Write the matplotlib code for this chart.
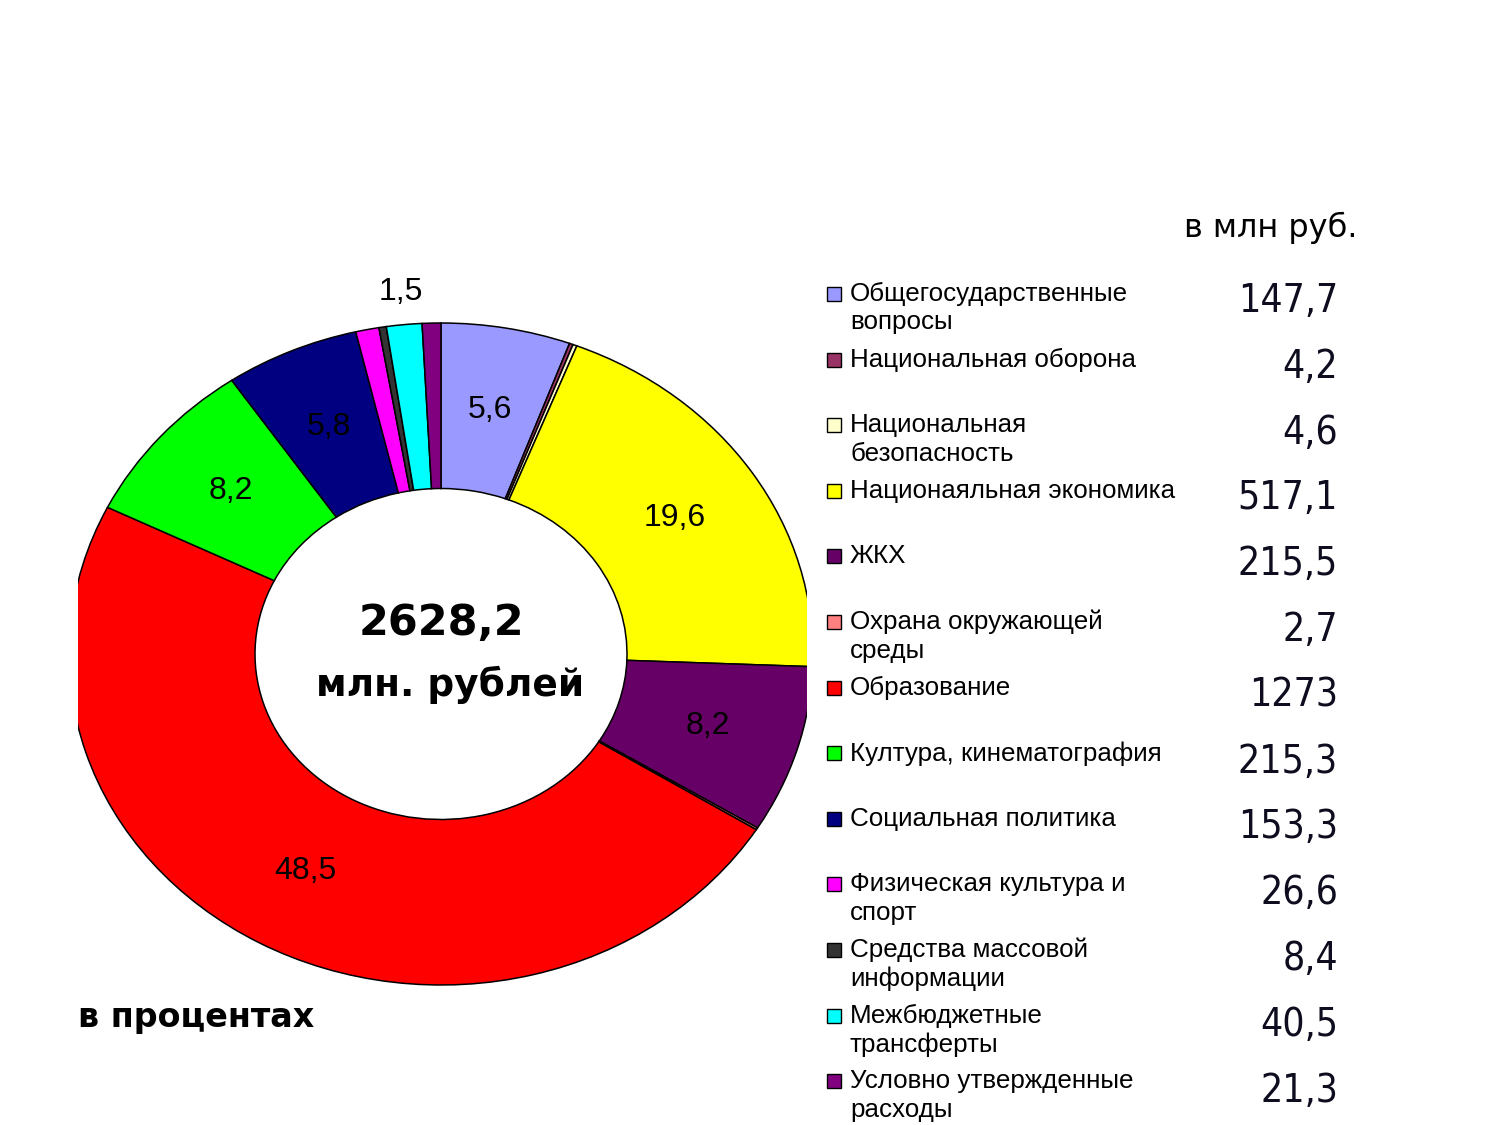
import matplotlib
matplotlib.use('Agg')
import numpy as np
from matplotlib import pyplot as plt
from matplotlib.patches import Rectangle

# данные: расходы бюджета, млн руб.
categories = ['Общегосударственные\nвопросы', 'Национальная оборона',
              'Национальная\nбезопасность', 'Национаяльная экономика', 'ЖКХ',
              'Охрана окружающей\nсреды', 'Образование', 'Култура, кинематография',
              'Социальная политика', 'Физическая культура и\nспорт',
              'Средства массовой\nинформации', 'Межбюджетные\nтрансферты',
              'Условно утвержденные\nрасходы']
values = [147.7, 4.2, 4.6, 517.1, 215.5, 2.7, 1273, 215.3, 153.3, 26.6, 8.4, 40.5, 21.3]
value_labels = ['147,7', '4,2', '4,6', '517,1', '215,5', '2,7', '1273',
                '215,3', '153,3', '26,6', '8,4', '40,5', '21,3']
pct_labels = ['5,6', '', '', '19,6', '8,2', '', '48,5', '8,2', '5,8', '', '', '1,5', '']
total_label = '2628,2'

colors = ['#9999FF', '#993366', '#FFFFCC', '#FFFF00', '#660066', '#FF8080', '#FF0000',
          '#00FF00', '#000080', '#FF00FF', '#333333', '#00FFFF', '#800080']

W, H = 1500, 1125
fig = plt.figure(figsize=(15, 11.25), dpi=100)

def fx(x):
    return x / W

def fy(y):
    return 1 - y / H

# ось под кольцо: центр (441, 654), rx=372, ry=331 пикселей
cx, cy, rx, ry = 441, 654, 372, 331
left, right, top, bottom = 78, 807, 300, 1010
ax = fig.add_axes([fx(left), fy(bottom), (right - left) / W, (bottom - top) / H])
wedges, _ = ax.pie(values, colors=colors, startangle=90, counterclock=False, radius=1,
                   wedgeprops=dict(width=0.5, edgecolor='black', linewidth=1.1))
for w in wedges:
    w.set_clip_on(True)
ax.set_aspect('auto')
ax.set_xlim((left - cx) / rx, (right - cx) / rx)
ax.set_ylim((cy - bottom) / ry, (cy - top) / ry)
ax.axis('off')

for i, (w, lbl) in enumerate(zip(wedges, pct_labels)):
    if not lbl:
        continue
    ang = np.deg2rad((w.theta1 + w.theta2) / 2)
    r = 1.1 if i == 11 else 0.75
    ax.text(r * np.cos(ang), r * np.sin(ang), lbl, ha='center', va='center',
            fontsize=23, family=['Liberation Sans', 'DejaVu Sans'], color='black')

ax.text(0, (cy - 623) / ry, total_label, ha='center', va='center', fontsize=31,
        fontweight='bold', family='DejaVu Sans')
ax.text(0.024, (cy - 685) / ry, 'млн. рублей', ha='center', va='center', fontsize=27,
        fontweight='bold', family='DejaVu Sans')

fig.text(fx(78), fy(1018), 'в процентах', ha='left', va='center', fontsize=24,
         fontweight='bold', family='DejaVu Sans')
fig.text(fx(1358), fy(228), 'в млн руб.', ha='right', va='center', fontsize=23,
         family='DejaVu Sans')

# легенда со значениями
for i, (name, col, val) in enumerate(zip(categories, colors, value_labels)):
    y0 = 294 + i * 65.6
    fig.patches.append(Rectangle((fx(827), fy(y0 + 7)), 14 / W, 14 / H, facecolor=col,
                                 edgecolor='black', linewidth=1.0,
                                 transform=fig.transFigure, figure=fig))
    fig.text(fx(850), fy(y0 - 12), name, ha='left', va='top', fontsize=18.7,
             family=['Liberation Sans', 'DejaVu Sans'], linespacing=1.23)
    fig.text(fx(1338), fy(y0 + 7 + i * 0.2), val, ha='right', va='center', fontsize=28,
             family='DejaVu Sans', fontstretch='condensed', color='#0d0d1f')

fig.savefig('out.png', dpi=100, facecolor='white')
